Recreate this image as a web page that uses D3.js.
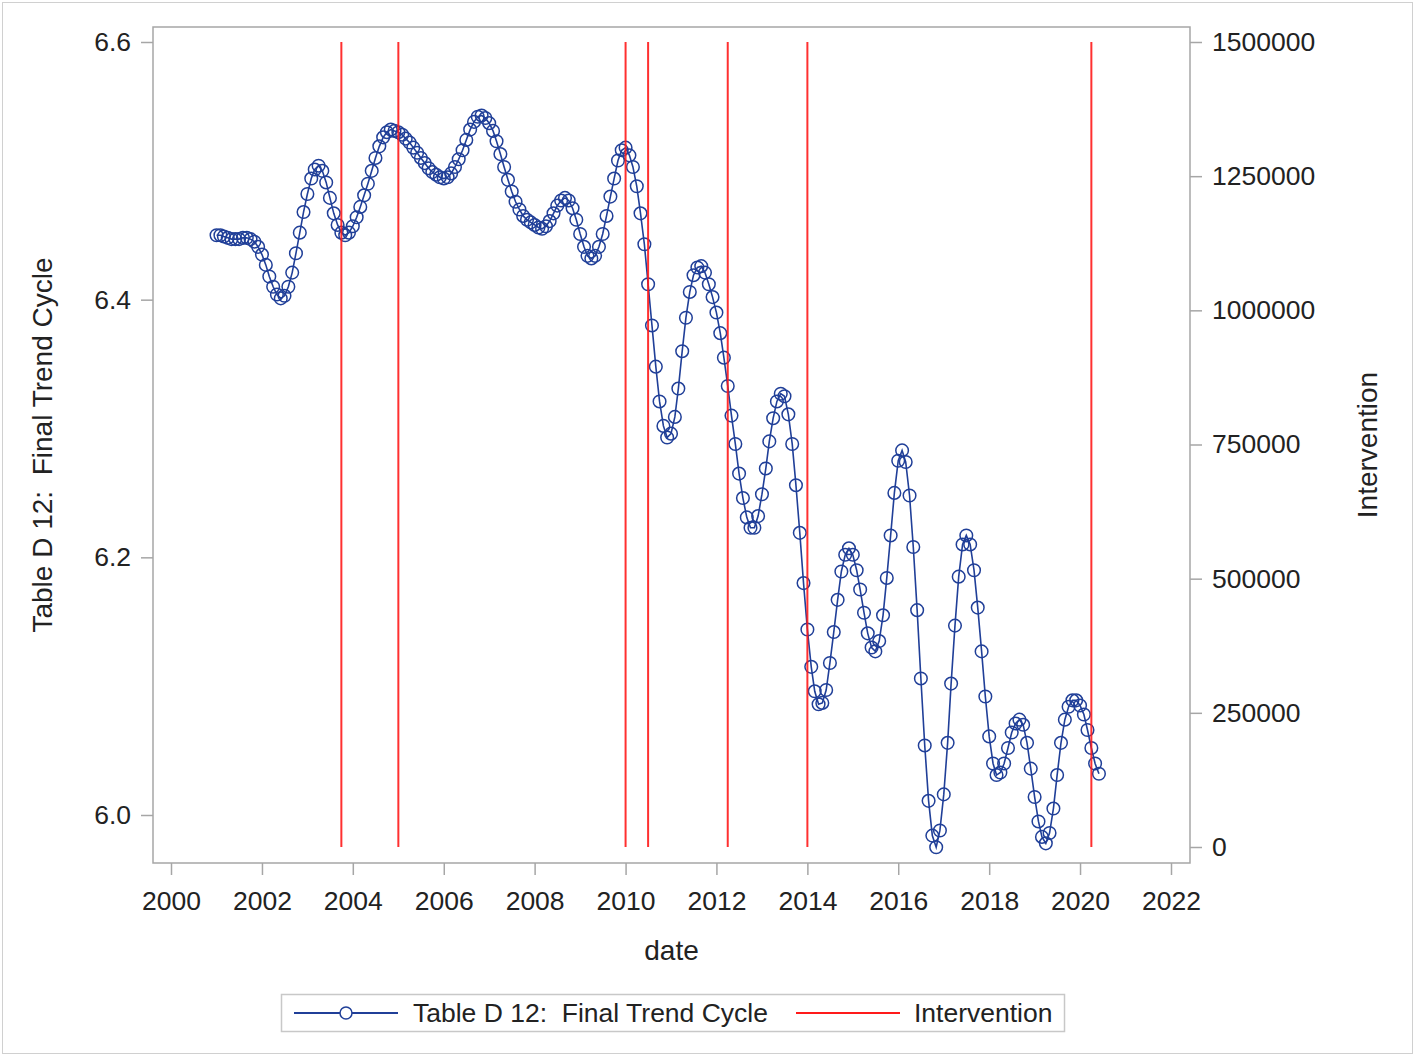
<!DOCTYPE html>
<html><head><meta charset="utf-8">
<script src="https://cdn.jsdelivr.net/npm/d3@7"></script>
<style>
body{margin:0;background:#fff}
svg{display:block}
text{font-family:"Liberation Sans",Arial,sans-serif;fill:#222;white-space:pre}
</style>
</head><body>
<svg id="chart" width="1415" height="1056"></svg>
<script>
// ---- data (monthly, Jan 2001 .. Jun 2020) ----
const seriesStart = "2001-01";
const trendCycle = [
  6.450,6.450,6.449,6.448,6.447,6.447,6.447,6.448,6.448,6.447,6.445,6.441, // 2001
  6.435,6.427,6.418,6.410,6.404,6.401,6.403,6.410,6.421,6.436,6.452,6.468, // 2002
  6.482,6.494,6.501,6.504,6.500,6.491,6.479,6.467,6.458,6.452,6.450,6.452, // 2003
  6.457,6.464,6.472,6.481,6.490,6.500,6.510,6.519,6.526,6.530,6.532,6.531, // 2004
  6.530,6.528,6.525,6.522,6.518,6.514,6.510,6.506,6.502,6.499,6.497,6.495, // 2005
  6.494,6.495,6.498,6.503,6.509,6.516,6.524,6.532,6.538,6.542,6.543,6.541, // 2006
  6.537,6.531,6.523,6.513,6.503,6.493,6.484,6.476,6.470,6.465,6.462,6.460, // 2007
  6.458,6.456,6.455,6.457,6.461,6.467,6.473,6.477,6.479,6.477,6.471,6.462, // 2008
  6.451,6.441,6.434,6.432,6.434,6.441,6.451,6.465,6.480,6.494,6.508,6.516, // 2009
  6.518,6.512,6.503,6.488,6.467,6.443,6.412,6.380,6.348,6.321,6.302,6.293, // 2010
  6.296,6.309,6.331,6.360,6.386,6.406,6.419,6.425,6.426,6.421,6.412,6.402, // 2011
  6.390,6.374,6.355,6.333,6.310,6.288,6.265,6.246,6.231,6.223,6.223,6.232, // 2012
  6.249,6.269,6.290,6.308,6.321,6.327,6.325,6.311,6.288,6.256,6.219,6.180, // 2013
  6.144,6.115,6.096,6.086,6.087,6.097,6.118,6.142,6.167,6.189,6.202,6.207, // 2014
  6.202,6.190,6.175,6.157,6.141,6.130,6.127,6.135,6.155,6.184,6.217,6.250, // 2015
  6.275,6.283,6.274,6.248,6.208,6.159,6.106,6.054,6.011,5.984,5.975,5.988, // 2016
  6.016,6.056,6.102,6.147,6.185,6.210,6.217,6.210,6.190,6.161,6.127,6.092, // 2017
  6.061,6.040,6.031,6.033,6.040,6.052,6.064,6.071,6.074,6.070,6.056,6.036, // 2018
  6.014,5.995,5.983,5.978,5.986,6.005,6.031,6.056,6.074,6.084,6.089,6.089, // 2019
  6.085,6.078,6.066,6.052,6.040,6.032                                      // 2020
];
const interventionDates = ["2003-10","2005-01","2010-01","2010-07","2012-04","2014-01","2020-04"];
const interventionValues = [1500000,1500000,1500000,1500000,1500000,1500000,1500000];
const xTickYears = [2000,2002,2004,2006,2008,2010,2012,2014,2016,2018,2020,2022];
const leftTicks = [6.0,6.2,6.4,6.6];
const rightTicks = [0,250000,500000,750000,1000000,1250000,1500000];
const seriesNames = ["Table D 12:  Final Trend Cycle","Intervention"];
const xTitle = "date", yTitle = "Table D 12:  Final Trend Cycle", y2Title = "Intervention";

// ---- layout ----
const W = 1415, H = 1056;
const plot = {l:153, r:1190, t:27, b:863};
const blue = "#203f98", red = "#ff1a1a", axisGray = "#a6a6a6";
const tickFs = 26.5, legendFs = 26.5, titleFs = 28;

const parse = d3.timeParse("%Y-%m");
const start = parse(seriesStart);
const points = trendCycle.map((v,i)=>({date:d3.timeMonth.offset(start,i), value:v}));
const interventions = interventionDates.map((d,i)=>({date:parse(d), value:interventionValues[i]}));

const x = d3.scaleTime().domain([new Date(2000,0,1), new Date(2022,0,1)]).range([171,1171]);
const y = d3.scaleLinear().domain([6.0,6.6]).range([815,42]);
const y2 = d3.scaleLinear().domain([0,1500000]).range([847,42]);

const svg = d3.select("#chart");
svg.append("rect").attr("x",2.5).attr("y",2.5).attr("width",W-5).attr("height",H-5)
  .attr("fill","#fff").attr("stroke","#d0d0d0").attr("stroke-width",1);

// axes
const gx = svg.append("g").attr("transform",`translate(0,${plot.b})`)
  .call(d3.axisBottom(x).tickValues(xTickYears.map(yv=>new Date(yv,0,1)))
    .tickFormat(d3.timeFormat("%Y")).tickSizeOuter(0).tickSize(12).tickPadding(16));
const gy = svg.append("g").attr("transform",`translate(${plot.l},0)`)
  .call(d3.axisLeft(y).tickValues(leftTicks).tickFormat(d3.format(".1f")).tickSizeOuter(0).tickSize(12).tickPadding(10));
const gy2 = svg.append("g").attr("transform",`translate(${plot.r},0)`)
  .call(d3.axisRight(y2).tickValues(rightTicks).tickFormat(d3.format("d")).tickSizeOuter(0).tickSize(12).tickPadding(10));
[gx,gy,gy2].forEach(g=>{
  g.select(".domain").remove();
  g.selectAll(".tick line").attr("stroke",axisGray).attr("stroke-width",1.5);
  g.selectAll(".tick text").attr("font-size",tickFs).attr("fill","#222")
    .style("font-family",'"Liberation Sans",Arial,sans-serif');
});

// frame
svg.append("rect").attr("x",plot.l).attr("y",plot.t).attr("width",plot.r-plot.l).attr("height",plot.b-plot.t)
  .attr("fill","none").attr("stroke",axisGray).attr("stroke-width",1.5);

// series line
svg.append("path").datum(points)
  .attr("d",d3.line().x(d=>x(d.date)).y(d=>y(d.value)))
  .attr("fill","none").attr("stroke",blue).attr("stroke-width",1.6);
svg.append("g").selectAll("circle").data(points).join("circle")
  .attr("cx",d=>x(d.date)).attr("cy",d=>y(d.value)).attr("r",6.3)
  .attr("fill","none").attr("stroke",blue).attr("stroke-width",1.5);

// interventions (needles)
svg.append("g").selectAll("line").data(interventions).join("line")
  .attr("x1",d=>x(d.date)).attr("x2",d=>x(d.date))
  .attr("y1",y2(0)).attr("y2",d=>y2(d.value))
  .attr("stroke",red).attr("stroke-width",2).attr("stroke-opacity",0.9);

// titles
svg.append("text").attr("x",(plot.l+plot.r)/2).attr("y",960).attr("text-anchor","middle")
  .attr("font-size",titleFs).text(xTitle);
svg.append("text").attr("transform",`translate(52,${(plot.t+plot.b)/2}) rotate(-90)`)
  .attr("text-anchor","middle").attr("font-size",titleFs).text(yTitle);
svg.append("text").attr("transform",`translate(1377,${(plot.t+plot.b)/2}) rotate(-90)`)
  .attr("text-anchor","middle").attr("font-size",titleFs).text(y2Title);

// legend
const lg = svg.append("g");
lg.append("rect").attr("x",281.5).attr("y",994.5).attr("width",783).attr("height",37)
  .attr("fill","#fff").attr("stroke","#c8c8c8").attr("stroke-width",1.5);
lg.append("line").attr("x1",294).attr("x2",398).attr("y1",1013).attr("y2",1013)
  .attr("stroke",blue).attr("stroke-width",2);
lg.append("circle").attr("cx",346).attr("cy",1013).attr("r",6)
  .attr("fill","#fff").attr("stroke",blue).attr("stroke-width",1.5);
lg.append("text").attr("x",413).attr("y",1022).attr("font-size",legendFs).text(seriesNames[0]);
lg.append("line").attr("x1",796).attr("x2",900).attr("y1",1013).attr("y2",1013)
  .attr("stroke",red).attr("stroke-width",2);
lg.append("text").attr("x",914).attr("y",1022).attr("font-size",legendFs).text(seriesNames[1]);
</script>
</body></html>
